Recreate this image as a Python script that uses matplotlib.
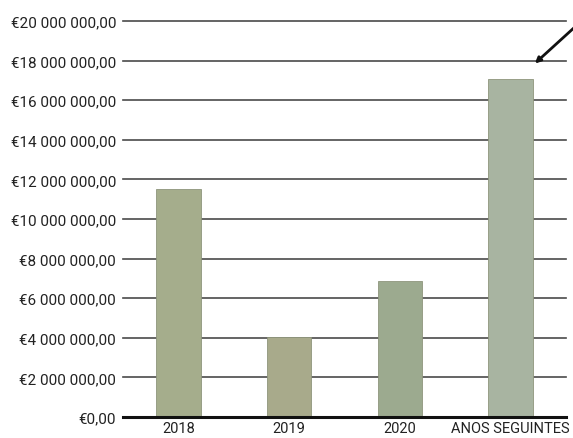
import matplotlib
matplotlib.use("Agg")
import matplotlib.pyplot as plt
from matplotlib.ticker import FuncFormatter

plt.rcParams['font.family'] = ['Roboto', 'DejaVu Sans']

# data
categorias = ['2018', '2019', '2020', 'ANOS SEGUINTES']
valores = [11500000, 4020000, 6880000, 17080000]
cores = ['#a5ad8c', '#a8aa8b', '#9caa8f', '#a8b4a1']
marcas = [0, 2000000, 4000000, 6000000, 8000000, 10000000,
          12000000, 14000000, 16000000, 18000000, 20000000]


def euro(v, pos=None):
    inteiro = f"{int(round(v)):,}".replace(",", " ")
    return f"€{inteiro},00"


fig = plt.figure(figsize=(5.73, 4.39), dpi=100)
ax = fig.add_axes([123/573, 21/439, 443/573, 396/439])

x = range(len(categorias))
ax.bar(x, valores, width=0.4, color=cores, edgecolor='#8e957c', linewidth=0.6, zorder=3)

for m in marcas[1:]:
    ax.axhline(m, color='#4a4a4a', linewidth=1.2, zorder=1, clip_on=False)
ax.axhline(0, color='#111111', linewidth=2.2, zorder=4, clip_on=False)

ax.set_xlim(-0.5, len(categorias) - 0.5)
ax.set_ylim(0, 20000000)
ax.set_yticks(marcas)
ax.yaxis.set_major_formatter(FuncFormatter(euro))
ax.set_xticks(list(x))
ax.set_xticklabels(categorias)
ax.tick_params(axis='y', length=0, pad=5, labelsize=11, labelcolor='#222222')
ax.tick_params(axis='x', length=0, pad=3, labelsize=10.5, labelcolor='#222222')
for s in ax.spines.values():
    s.set_visible(False)

# seta no canto superior direito
ax.annotate('', xy=(0.925, 0.888), xytext=(1.03, 0.995),
            xycoords='axes fraction', textcoords='axes fraction',
            arrowprops=dict(arrowstyle='-|>', color='#111111', lw=2, mutation_scale=8),
            annotation_clip=False)

fig.savefig('out.png', dpi=100, facecolor='white')
